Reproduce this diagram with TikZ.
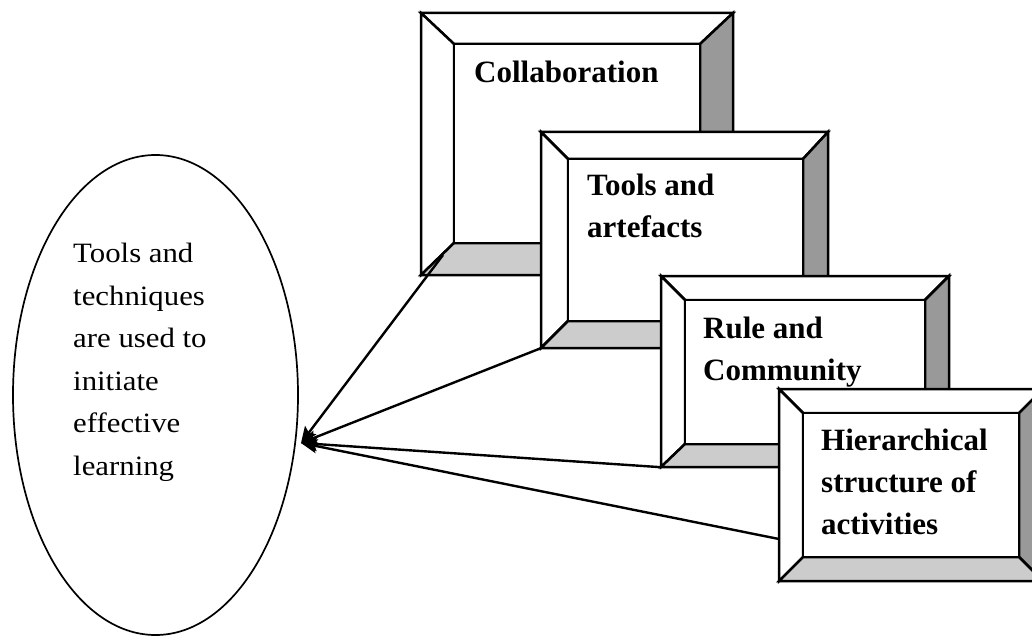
\documentclass[tikz,border=0pt]{standalone}
\usepackage{fontspec}
\setmainfont{Liberation Serif}
\usetikzlibrary{arrows.meta,fit,shapes.geometric}
\definecolor{darkbevel}{gray}{0.6}
\definecolor{lightbevel}{gray}{0.8}
\tikzset{
  boxline/.style={draw=black, line width=2.5pt, line join=miter},
  boldtext/.style={inner sep=0pt, anchor=base west, font=\bfseries\fontsize{31}{42}\selectfont},
  plaintext/.style={inner sep=0pt, anchor=base west, font=\fontsize{28}{42.6}\selectfont},
  conn/.style={line width=2.4pt, -{Stealth[length=16pt,width=14pt,inset=3pt]}},
}
% name, outer x1,y1,x2,y2, inner a1,b1,a2,b2
\newcommand\bevelbox[9]{%
  \filldraw[boxline, fill=white] (#2,#3) -- (#4,#3) -- (#8,#7) -- (#6,#7) -- cycle;
  \filldraw[boxline, fill=white] (#2,#3) -- (#6,#7) -- (#6,#9) -- (#2,#5) -- cycle;
  \filldraw[boxline, fill=darkbevel] (#4,#3) -- (#4,#5) -- (#8,#9) -- (#8,#7) -- cycle;
  \filldraw[boxline, fill=lightbevel] (#2,#5) -- (#6,#9) -- (#8,#9) -- (#4,#5) -- cycle;
  \filldraw[boxline, fill=white] (#6,#7) rectangle (#8,#9);
  \node[fit={(#2,#3) (#4,#5)}, inner sep=0pt] (#1) {};
}
\begin{document}
\begin{tikzpicture}[x=1pt, y=-1pt]
\useasboundingbox (0,0) rectangle (1032,636);

\node[draw, line width=1.7pt, ellipse, minimum width=285pt, minimum height=480pt, inner sep=0pt] (ell) at (155.5,395) {};
\node[plaintext] (etext) at (73,262.5) {\scalebox{1.1}[1]{\begin{tabular}[t]{@{}l@{}}Tools and\\techniques\\are used to\\initiate\\effective\\learning\end{tabular}}};

\bevelbox{box1}{421}{13}{733}{275}{454}{44}{700}{243}
\node[boldtext] (t1) at (474,83) {Collaboration};

\bevelbox{box2}{541}{132}{828}{348}{568}{159}{803}{321}
\node[boldtext] (t2) at (587,196) {\begin{tabular}[t]{@{}l@{}}Tools and\\artefacts\end{tabular}};

\bevelbox{box3}{661}{276}{949}{467}{685}{300}{925}{444}
\node[boldtext] (t3) at (703,338) {\begin{tabular}[t]{@{}l@{}}Rule and\\Community\end{tabular}};

\bevelbox{box4}{779}{389}{1043}{581}{803}{413}{1019}{557}
\node[boldtext] (t4) at (821,450) {\begin{tabular}[t]{@{}l@{}}Hierarchical\\structure of\\activities\end{tabular}};

\coordinate (tip) at (301,443);
\coordinate (c1) at (443,255);
\coordinate (c4) at (779,539);

\draw[conn] (c1) -- (tip);
\draw[conn] (box2.south west) -- (tip);
\draw[conn] (box3.south west) -- (tip);
\draw[conn] (c4) -- (tip);
\end{tikzpicture}
\end{document}
